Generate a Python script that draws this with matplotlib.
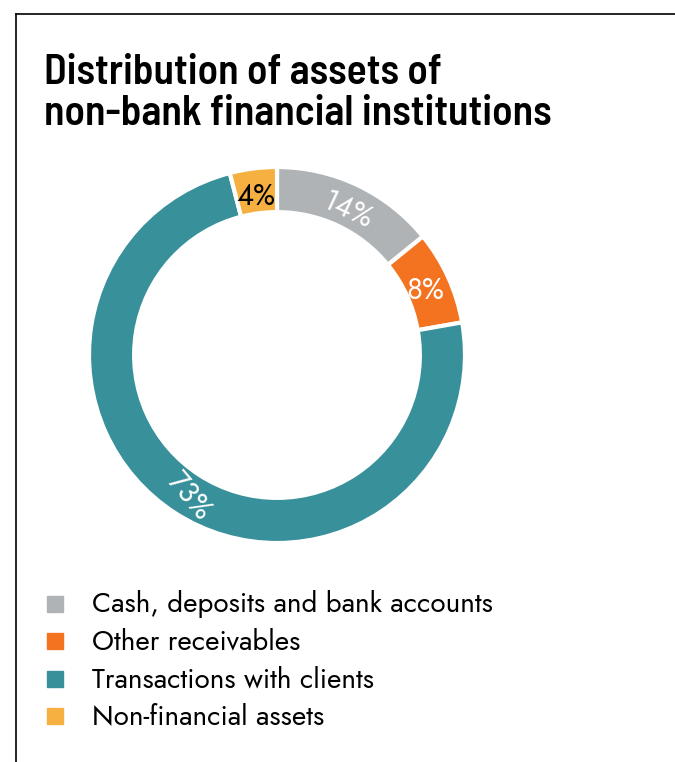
import matplotlib.pyplot as plt
from matplotlib.patches import Rectangle
from matplotlib.lines import Line2D
import numpy as np

categories = ['Cash, deposits and bank accounts', 'Other receivables',
              'Transactions with clients', 'Non-financial assets']
shares = [14, 8, 73, 4]
labels = ['14%', '8%', '73%', '4%']

colors = ['#b0b3b5', '#f37321', '#38909b', '#f5b041']
label_colors = ['white', 'white', 'white', 'black']
label_rot = [-25, 0, -50, 0]

body_font = ['Jost', 'Lato', 'DejaVu Sans']
title_font = ['Barlow Semi Condensed', 'Roboto Condensed', 'DejaVu Sans']

W, H = 675, 762
fig = plt.figure(figsize=(W / 100, H / 100), dpi=100)

# frame lines along top and left edge
fig.add_artist(Line2D([16 / W, 1], [1 - 14 / H, 1 - 14 / H], color='black', lw=1.2))
fig.add_artist(Line2D([16 / W, 16 / W], [0, 1 - 14 / H], color='black', lw=1.2))

fig.text(44 / W, 1 - 84 / H, 'Distribution of assets of', fontsize=30,
         fontweight=600, family=title_font, ha='left', va='baseline')
fig.text(44 / W, 1 - 125 / H, 'non-bank financial institutions', fontsize=30,
         fontweight=600, family=title_font, ha='left', va='baseline')

# donut
cx, cy, R = 277, 355, 188
ax = fig.add_axes([(cx - R) / W, (H - cy - R) / H, 2 * R / W, 2 * R / H])
wedges, _ = ax.pie(shares, colors=colors, startangle=90, counterclock=False,
                   radius=1, wedgeprops=dict(width=0.24, edgecolor='white', linewidth=3))
ax.set_xlim(-1, 1)
ax.set_ylim(-1, 1)
ax.set_aspect('equal')
ax.axis('off')

for w, lab, c, rot in zip(wedges, labels, label_colors, label_rot):
    ang = np.deg2rad((w.theta1 + w.theta2) / 2)
    r = 0.87
    ax.text(r * np.cos(ang), r * np.sin(ang) - 0.02, lab, color=c, fontsize=21,
            family=body_font, ha='center', va='center', rotation=rot)

# legend
row_y = [604, 641, 679, 716]
for name, col, y in zip(categories, colors, row_y):
    fig.add_artist(Rectangle((47 / W, 1 - (y + 8) / H), 16 / W, 16 / H,
                             color=col, transform=fig.transFigure))
    fig.text(92 / W, 1 - y / H, name, fontsize=20, family=body_font,
             ha='left', va='center')

fig.savefig('out.png', dpi=100)
